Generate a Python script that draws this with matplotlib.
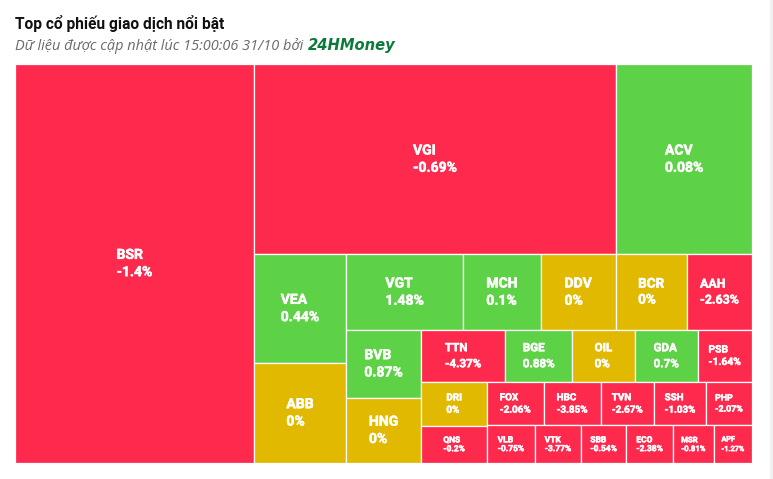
import math
import matplotlib
matplotlib.use("Agg")
import matplotlib.pyplot as plt
import matplotlib.patheffects as pe
from matplotlib.patches import Rectangle

# ---------------- data ----------------
codes = ["BSR", "VGI", "ACV", "VEA", "ABB", "VGT", "MCH", "DDV", "BCR", "AAH",
         "BVB", "HNG", "TTN", "BGE", "OIL", "GDA", "PSB", "DRI", "QNS", "FOX",
         "HBC", "TVN", "SSH", "PHP", "VLB", "VTK", "SBB", "ECO", "MSR", "APF"]
volumes = [95361, 68946, 25824, 9973, 9228, 8880, 5859, 5678, 5375, 4943,
           5098, 4917, 4343, 3443, 3242, 3242, 2807, 2904, 2455, 2490,
           2495, 2345, 2262, 2037, 1805, 1730, 1703, 1756, 1530, 1440]
changes = [-1.4, -0.69, 0.08, 0.44, 0.0, 1.48, 0.1, 0.0, 0.0, -2.63,
           0.87, 0.0, -4.37, 0.88, 0.0, 0.7, -1.64, 0.0, -0.2, -2.06,
           -3.85, -2.67, -1.03, -2.07, -0.75, -3.77, -0.54, -2.38, -0.81, -1.27]

title = "Top cổ phiếu giao dịch nổi bật"
subtitle = "Dữ liệu được cập nhật lúc 15:00:06 31/10 bởi"
brand = "24HMoney"

RED, GREEN, YELLOW = "#FE2A4E", "#5ED246", "#E1B900"

W_PX, H_PX = 773, 479
X0, X1, Y0, Y1 = 15, 752, 64, 463


# --------- squarified layout (Highcharts-style low aspect ratio) ---------
def _div(a, b):
    if b == 0 or math.isnan(a) or math.isnan(b):
        return math.nan
    return a / b


def _ar(a, b):
    if any(math.isnan(v) for v in (a, b)) or a == 0 or b == 0:
        return math.nan
    return max(a / b, b / a)


class Group:
    def __init__(self, h, w, d):
        self.height, self.width, self.direction = h, w, d
        self.total = 0.0
        self.nW = self.lW = self.nH = self.lH = 0.0
        self.el = []
        self.lR = self.nR = math.nan

    def add(self, e):
        lpt = self.el[-1] if self.el else math.nan
        self.total += e
        if self.direction == 0:
            self.lW = self.nW
            lH = _div(lpt, self.lW)
            self.lR = _ar(self.lW, lH)
            self.nW = self.total / self.height
            nH = _div(lpt, self.nW)
            self.nR = _ar(self.nW, nH)
        else:
            self.lH = self.nH
            lW = _div(lpt, self.lH)
            self.lR = _ar(lW, self.lH)
            self.nH = self.total / self.width
            nW = _div(lpt, self.nH)
            self.nR = _ar(nW, self.nH)
        self.el.append(e)


def squarify(vals, pw, ph):
    tot = sum(vals)
    out = []
    plot = {"x": 0.0, "y": 0.0}
    g = Group(ph, pw, 0)

    def calc(last):
        gW, gH = (g.nW, g.nH) if last else (g.lW, g.lH)
        ptot = None if last else g.el[-1]
        end = len(g.el) - 1
        for i, p in enumerate(g.el):
            if last or i < end:
                if g.direction == 0:
                    w = gW; h = p / w
                    out.append((plot["x"], plot["y"], w, h))
                    plot["y"] += h
                else:
                    h = gH; w = p / h
                    out.append((plot["x"], plot["y"], w, h))
                    plot["x"] += w
        g.nW = g.lW = 0.0
        g.el = []
        g.total = 0.0
        if g.direction == 0:
            g.width -= gW
        else:
            g.height -= gH
        plot["y"] = ph - g.height
        plot["x"] = pw - g.width
        g.direction = 1 - g.direction
        if not last:
            g.add(ptot)

    n = len(vals)
    for i, v in enumerate(vals):
        g.add(pw * ph * v / tot)
        if g.nR > g.lR:
            calc(False)
        if i == n - 1:
            calc(True)
    return out


# ---------------- figure ----------------
fig = plt.figure(figsize=(W_PX / 100, H_PX / 100), dpi=100)
fig.patch.set_facecolor("white")

pw, ph = X1 - X0, Y1 - Y0
ax = fig.add_axes([X0 / W_PX, 1 - Y1 / H_PX, pw / W_PX, ph / H_PX])
ax.set_xlim(0, pw)
ax.set_ylim(ph, 0)
ax.axis("off")

rects = squarify(volumes, pw, ph)
PX2PT = 0.72
for (x, y, w, h), code, ch in zip(rects, codes, changes):
    col = GREEN if ch > 0 else (YELLOW if ch == 0 else RED)
    ax.add_patch(Rectangle((x, y), w, h, facecolor=col, edgecolor="white",
                           linewidth=0.9))
    fs_px = max(6.8, min(14.0, 0.225 * h, 0.19 * w))
    ax.text(x + w / 2, y + h / 2, f"{code}\n{ch:g}%", ha="center", va="center",
            multialignment="left", color="white", fontweight="bold",
            fontsize=fs_px * PX2PT, family="Roboto", linespacing=1.3,
            path_effects=[pe.withStroke(linewidth=0.35, foreground="white")])

# light strip at right edge
fig.add_artist(Rectangle((769.5 / W_PX, 0), 3.5 / W_PX, 1, transform=fig.transFigure,
                         facecolor="#f1f1f1", edgecolor="none"))

fig.text(15 / W_PX, 1 - 29 / H_PX, title, fontsize=15.5 * PX2PT, fontweight="bold",
         family="Roboto", color="#111111", va="baseline", ha="left")
t = fig.text(15 / W_PX, 1 - 50 / H_PX, subtitle + " ", fontsize=14.5 * PX2PT,
             style="italic", family="Open Sans", color="#6a6a6a", va="baseline", ha="left")
fig.canvas.draw()
bb = t.get_window_extent(renderer=fig.canvas.get_renderer())
fig.text(bb.x1 / W_PX + 1 / W_PX, 1 - 50 / H_PX, brand, fontsize=14.8 * PX2PT,
         style="italic", fontweight="bold", family="DejaVu Sans", color="#0B7A3B",
         va="baseline", ha="left")

fig.savefig("out.png", dpi=100, facecolor="white")
